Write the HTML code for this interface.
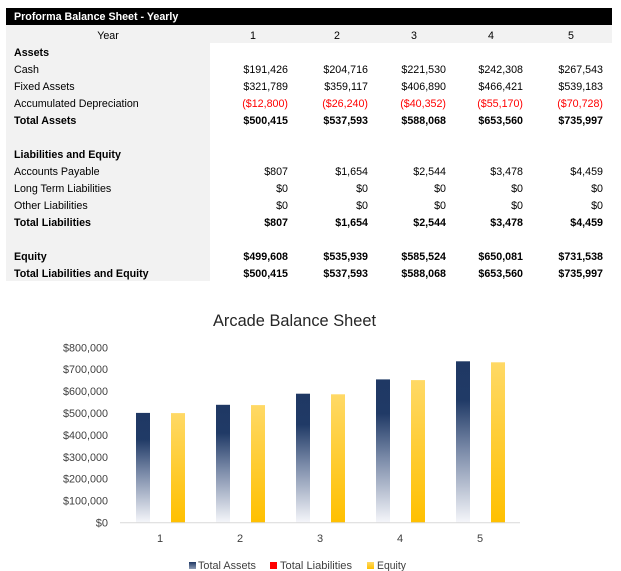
<!DOCTYPE html>
<html>
<head>
<meta charset="utf-8">
<style>
  html,body{margin:0;padding:0;background:#fff;}
  body{width:621px;height:571px;position:relative;overflow:hidden;font-family:"Liberation Sans",Arial,sans-serif;}
  .abs{position:absolute;}
  .t{position:absolute;font-size:10.7px;line-height:17px;height:17px;color:#000;white-space:nowrap;}
  .b{font-weight:bold;}
  .r{color:#ff0000;}
  .v{text-align:right;width:80px;}
  .c{text-align:center;width:40px;}
</style>
</head>
<body>
<!-- table backgrounds -->
<div class="abs" style="left:6px;top:8px;width:606px;height:17px;background:#000;"></div>
<div class="abs" style="left:6px;top:25px;width:606px;height:18px;background:#f2f2f2;"></div>
<div class="abs" style="left:6px;top:43px;width:204px;height:238px;background:#f2f2f2;"></div>

<div class="t b" style="left:14px;top:8.5px;color:#fff;">Proforma Balance Sheet - Yearly</div>

<!-- year row -->
<div class="t" style="left:68px;top:28px;width:80px;text-align:center;">Year</div>
<div class="t c" style="left:233px;top:28px;">1</div>
<div class="t c" style="left:317px;top:28px;">2</div>
<div class="t c" style="left:394px;top:28px;">3</div>
<div class="t c" style="left:471px;top:28px;">4</div>
<div class="t c" style="left:551px;top:28px;">5</div>

<!-- labels -->
<div class="t b" style="left:14px;top:45px;">Assets</div>
<div class="t" style="left:14px;top:62px;">Cash</div>
<div class="t" style="left:14px;top:79px;">Fixed Assets</div>
<div class="t" style="left:14px;top:96px;">Accumulated Depreciation</div>
<div class="t b" style="left:14px;top:113px;">Total Assets</div>
<div class="t b" style="left:14px;top:147px;">Liabilities and Equity</div>
<div class="t" style="left:14px;top:164px;">Accounts Payable</div>
<div class="t" style="left:14px;top:181px;">Long Term Liabilities</div>
<div class="t" style="left:14px;top:198px;">Other Liabilities</div>
<div class="t b" style="left:14px;top:215px;">Total Liabilities</div>
<div class="t b" style="left:14px;top:249px;">Equity</div>
<div class="t b" style="left:14px;top:266px;">Total Liabilities and Equity</div>

<!-- column 1 (right edge 288) -->
<div class="t v" style="left:208px;top:62px;">$191,426</div>
<div class="t v" style="left:208px;top:79px;">$321,789</div>
<div class="t v r" style="left:208px;top:96px;">($12,800)</div>
<div class="t v b" style="left:208px;top:113px;">$500,415</div>
<div class="t v" style="left:208px;top:164px;">$807</div>
<div class="t v" style="left:208px;top:181px;">$0</div>
<div class="t v" style="left:208px;top:198px;">$0</div>
<div class="t v b" style="left:208px;top:215px;">$807</div>
<div class="t v b" style="left:208px;top:249px;">$499,608</div>
<div class="t v b" style="left:208px;top:266px;">$500,415</div>

<!-- column 2 (right edge 368) -->
<div class="t v" style="left:288px;top:62px;">$204,716</div>
<div class="t v" style="left:288px;top:79px;">$359,117</div>
<div class="t v r" style="left:288px;top:96px;">($26,240)</div>
<div class="t v b" style="left:288px;top:113px;">$537,593</div>
<div class="t v" style="left:288px;top:164px;">$1,654</div>
<div class="t v" style="left:288px;top:181px;">$0</div>
<div class="t v" style="left:288px;top:198px;">$0</div>
<div class="t v b" style="left:288px;top:215px;">$1,654</div>
<div class="t v b" style="left:288px;top:249px;">$535,939</div>
<div class="t v b" style="left:288px;top:266px;">$537,593</div>

<!-- column 3 (right edge 446) -->
<div class="t v" style="left:366px;top:62px;">$221,530</div>
<div class="t v" style="left:366px;top:79px;">$406,890</div>
<div class="t v r" style="left:366px;top:96px;">($40,352)</div>
<div class="t v b" style="left:366px;top:113px;">$588,068</div>
<div class="t v" style="left:366px;top:164px;">$2,544</div>
<div class="t v" style="left:366px;top:181px;">$0</div>
<div class="t v" style="left:366px;top:198px;">$0</div>
<div class="t v b" style="left:366px;top:215px;">$2,544</div>
<div class="t v b" style="left:366px;top:249px;">$585,524</div>
<div class="t v b" style="left:366px;top:266px;">$588,068</div>

<!-- column 4 (right edge 523) -->
<div class="t v" style="left:443px;top:62px;">$242,308</div>
<div class="t v" style="left:443px;top:79px;">$466,421</div>
<div class="t v r" style="left:443px;top:96px;">($55,170)</div>
<div class="t v b" style="left:443px;top:113px;">$653,560</div>
<div class="t v" style="left:443px;top:164px;">$3,478</div>
<div class="t v" style="left:443px;top:181px;">$0</div>
<div class="t v" style="left:443px;top:198px;">$0</div>
<div class="t v b" style="left:443px;top:215px;">$3,478</div>
<div class="t v b" style="left:443px;top:249px;">$650,081</div>
<div class="t v b" style="left:443px;top:266px;">$653,560</div>

<!-- column 5 (right edge 603) -->
<div class="t v" style="left:523px;top:62px;">$267,543</div>
<div class="t v" style="left:523px;top:79px;">$539,183</div>
<div class="t v r" style="left:523px;top:96px;">($70,728)</div>
<div class="t v b" style="left:523px;top:113px;">$735,997</div>
<div class="t v" style="left:523px;top:164px;">$4,459</div>
<div class="t v" style="left:523px;top:181px;">$0</div>
<div class="t v" style="left:523px;top:198px;">$0</div>
<div class="t v b" style="left:523px;top:215px;">$4,459</div>
<div class="t v b" style="left:523px;top:249px;">$731,538</div>
<div class="t v b" style="left:523px;top:266px;">$735,997</div>

<!-- chart -->
<svg class="abs" style="left:0;top:0;" width="621" height="571" viewBox="0 0 621 571" xmlns="http://www.w3.org/2000/svg">
  <defs>
    <linearGradient id="ga" x1="0" y1="0" x2="0" y2="1">
      <stop offset="0" stop-color="#1f3864"/>
      <stop offset="0.24" stop-color="#203a66"/>
      <stop offset="0.55" stop-color="#7a8aa8"/>
      <stop offset="1" stop-color="#f5f6fa"/>
    </linearGradient>
    <linearGradient id="ge" x1="0" y1="0" x2="0" y2="1">
      <stop offset="0" stop-color="#ffd966"/>
      <stop offset="1" stop-color="#ffc000"/>
    </linearGradient>
    <linearGradient id="gl" x1="0" y1="0" x2="0" y2="1">
      <stop offset="0" stop-color="#1f3864"/>
      <stop offset="1" stop-color="#8e9bb5"/>
    </linearGradient>
  </defs>
  <g font-family="Liberation Sans, Arial, sans-serif" fill="#404040">
    <text x="294.5" y="326" font-size="17" text-anchor="middle" textLength="163" lengthAdjust="spacingAndGlyphs" fill="#262626">Arcade Balance Sheet</text>
    <g font-size="11" text-anchor="end">
      <text x="108" y="351.3" textLength="45" lengthAdjust="spacingAndGlyphs">$800,000</text>
      <text x="108" y="373.2" textLength="45" lengthAdjust="spacingAndGlyphs">$700,000</text>
      <text x="108" y="395.1" textLength="45" lengthAdjust="spacingAndGlyphs">$600,000</text>
      <text x="108" y="417.0" textLength="45" lengthAdjust="spacingAndGlyphs">$500,000</text>
      <text x="108" y="438.9" textLength="45" lengthAdjust="spacingAndGlyphs">$400,000</text>
      <text x="108" y="460.8" textLength="45" lengthAdjust="spacingAndGlyphs">$300,000</text>
      <text x="108" y="482.7" textLength="45" lengthAdjust="spacingAndGlyphs">$200,000</text>
      <text x="108" y="504.6" textLength="45" lengthAdjust="spacingAndGlyphs">$100,000</text>
      <text x="108" y="526.5">$0</text>
    </g>
    <g font-size="11" text-anchor="middle">
      <text x="160" y="542">1</text>
      <text x="240" y="542">2</text>
      <text x="320" y="542">3</text>
      <text x="400" y="542">4</text>
      <text x="480" y="542">5</text>
    </g>
  </g>
  <!-- bars: baseline 522.5, 21.9 px per 100k -->
  <g>
    <rect x="136" y="412.9" width="14" height="109.6" fill="url(#ga)"/>
    <rect x="216" y="404.8" width="14" height="117.7" fill="url(#ga)"/>
    <rect x="296" y="393.7" width="14" height="128.8" fill="url(#ga)"/>
    <rect x="376" y="379.4" width="14" height="143.1" fill="url(#ga)"/>
    <rect x="456" y="361.3" width="14" height="161.2" fill="url(#ga)"/>

    <rect x="171" y="413.1" width="14" height="109.4" fill="url(#ge)"/>
    <rect x="251" y="405.1" width="14" height="117.4" fill="url(#ge)"/>
    <rect x="331" y="394.3" width="14" height="128.2" fill="url(#ge)"/>
    <rect x="411" y="380.1" width="14" height="142.4" fill="url(#ge)"/>
    <rect x="491" y="362.3" width="14" height="160.2" fill="url(#ge)"/>
  </g>
  <line x1="120" y1="522.8" x2="520" y2="522.8" stroke="#d9d9d9" stroke-width="1"/>
  <!-- legend -->
  <rect x="189" y="562" width="7" height="7" fill="url(#gl)"/>
  <rect x="270" y="562" width="7" height="7" fill="#ff0000"/>
  <rect x="367" y="562" width="7" height="7" fill="url(#ge)"/>
  <g font-family="Liberation Sans, Arial, sans-serif" font-size="11" fill="#404040">
    <text x="198" y="569" textLength="58" lengthAdjust="spacingAndGlyphs">Total Assets</text>
    <text x="280" y="569" textLength="72" lengthAdjust="spacingAndGlyphs">Total Liabilities</text>
    <text x="377" y="569" textLength="29" lengthAdjust="spacingAndGlyphs">Equity</text>
  </g>
</svg>
</body>
</html>
